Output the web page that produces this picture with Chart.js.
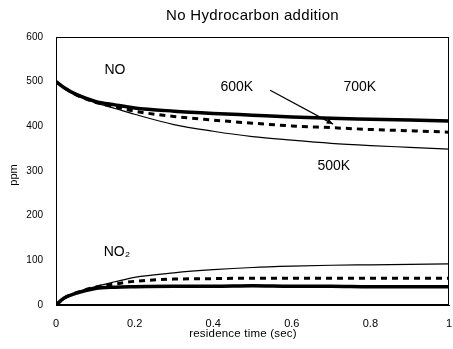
<!DOCTYPE html>
<html>
<head>
<meta charset="utf-8">
<script src="https://cdn.jsdelivr.net/npm/chart.js@4.4.1/dist/chart.umd.min.js"></script>
<style>
html,body{margin:0;padding:0;background:#fff;}
#wrap{width:453px;height:349px;position:relative;}
</style>
</head>
<body>
<div id="wrap"><canvas id="c" width="453" height="349"></canvas></div>
<script>
const times = [0, 0.02, 0.05, 0.1, 0.15, 0.2, 0.3, 0.4, 0.5, 0.6, 0.7, 0.8, 0.9, 1.0];
const no700 = [500, 487, 472, 456, 448, 441, 434, 429, 425, 421, 418, 416, 414, 412];
const no600 = [500, 487, 471, 454, 444, 434, 422, 414, 407, 401, 397, 393, 390, 387];
const no500 = [500, 487, 471, 453, 440, 427, 404, 389, 377, 369, 362, 357, 353, 349];
const no2_700 = [0, 15, 26, 37, 40, 41, 42, 42, 43, 42, 42, 41, 41, 41];
const no2_600 = [0, 15, 27, 40, 47, 53, 58, 59, 60, 60, 60, 60, 60, 60];
const no2_500 = [0, 15, 27, 41, 52, 62, 72, 79, 84, 87, 89, 90, 91, 92];
const xTicks = [0, 0.2, 0.4, 0.6, 0.8, 1];
const yTicks = [0, 100, 200, 300, 400, 500, 600];
const titleText = "No Hydrocarbon addition";
const xTitle = "residence time (sec)";
const yTitle = "ppm";
const labels = [
  {text: "NO", x: 0.15, y: 526},
  {text: "600K", x: 0.46, y: 488},
  {text: "700K", x: 0.773, y: 488},
  {text: "500K", x: 0.707, y: 311},
  {text: "NO\u2082", x: 0.155, y: 119}
];
const arrow = {from: {x: 0.545, y: 481}, to: {x: 0.705, y: 405}};

const FONT = "'Liberation Sans', Arial, sans-serif";
const pts = arr => arr.map((v, i) => ({x: times[i], y: v}));

function ds(data, style) {
  const base = {data: pts(data), borderColor: '#000', pointRadius: 0, fill: false, cubicInterpolationMode: 'monotone'};
  if (style === 'thick') return Object.assign(base, {borderWidth: 3.5});
  if (style === 'dash') return Object.assign(base, {borderWidth: 3, borderDash: [6, 5]});
  return Object.assign(base, {borderWidth: 1.2});
}

const deco = {
  id: 'deco',
  afterDatasetsDraw(chart) {
    const {ctx, chartArea: a, scales: {x, y}} = chart;
    ctx.save();
    ctx.strokeStyle = '#000';
    ctx.lineWidth = 1;
    ctx.strokeRect(a.left + 0.5, a.top + 0.5, a.right - a.left - 1, a.bottom - a.top - 1);
    ctx.fillStyle = '#000';
    ctx.textAlign = 'center';
    ctx.textBaseline = 'middle';
    ctx.font = "14px " + FONT;
    labels.forEach(l => ctx.fillText(l.text, x.getPixelForValue(l.x), y.getPixelForValue(l.y)));
    // arrow
    const x1 = x.getPixelForValue(arrow.from.x), y1 = y.getPixelForValue(arrow.from.y);
    const x2 = x.getPixelForValue(arrow.to.x), y2 = y.getPixelForValue(arrow.to.y);
    ctx.beginPath(); ctx.moveTo(x1, y1); ctx.lineTo(x2, y2); ctx.lineWidth = 1.2; ctx.stroke();
    const ang = Math.atan2(y2 - y1, x2 - x1), L = 7;
    ctx.beginPath();
    ctx.moveTo(x2, y2);
    ctx.lineTo(x2 - L * Math.cos(ang - 0.4), y2 - L * Math.sin(ang - 0.4));
    ctx.lineTo(x2 - L * Math.cos(ang + 0.4), y2 - L * Math.sin(ang + 0.4));
    ctx.closePath(); ctx.fill();
    // titles
    ctx.font = "15px " + FONT;
    ctx.letterSpacing = "0.3px";
    ctx.fillText(titleText, (a.left + a.right) / 2, 16);
    ctx.font = "11.5px " + FONT;
    ctx.letterSpacing = "0.2px";
    ctx.fillText(xTitle, 243, 334);
    ctx.translate(14, (a.top + a.bottom) / 2 + 4);
    ctx.rotate(-Math.PI / 2);
    ctx.letterSpacing = "0px";
    ctx.font = "11px " + FONT;
    ctx.fillText(yTitle, 0, 0);
    ctx.restore();
  }
};

new Chart(document.getElementById('c'), {
  type: 'line',
  data: {
    datasets: [
      ds(no700, 'thick'), ds(no600, 'dash'), ds(no500, 'thin'),
      ds(no2_700, 'thick'), ds(no2_600, 'dash'), ds(no2_500, 'thin')
    ]
  },
  options: {
    responsive: false,
    animation: false,
    layout: {padding: {top: 37, right: 4, left: 0, bottom: 0}},
    plugins: {legend: {display: false}, tooltip: {enabled: false}, title: {display: false}},
    scales: {
      x: {
        type: 'linear', min: 0, max: 1,
        afterBuildTicks: s => { s.ticks = xTicks.map(v => ({value: v})); },
        ticks: {color: '#000', font: {family: FONT, size: 11}, padding: 12, maxRotation: 0,
          callback: v => String(v)},
        grid: {display: false, drawTicks: false},
        border: {display: true, color: '#000'},
        afterFit: s => { s.height = 44; s.paddingRight = 0; s.paddingLeft = 0; }
      },
      y: {
        min: 0, max: 600,
        afterBuildTicks: s => { s.ticks = yTicks.map(v => ({value: v})); },
        ticks: {color: '#000', font: {family: FONT, size: 10}, padding: 13},
        grid: {display: false, drawTicks: false},
        border: {display: true, color: '#000'},
        afterFit: s => { s.width = 56; s.paddingTop = 0; s.paddingBottom = 0; }
      }
    }
  },
  plugins: [deco]
});
</script>
</body>
</html>
